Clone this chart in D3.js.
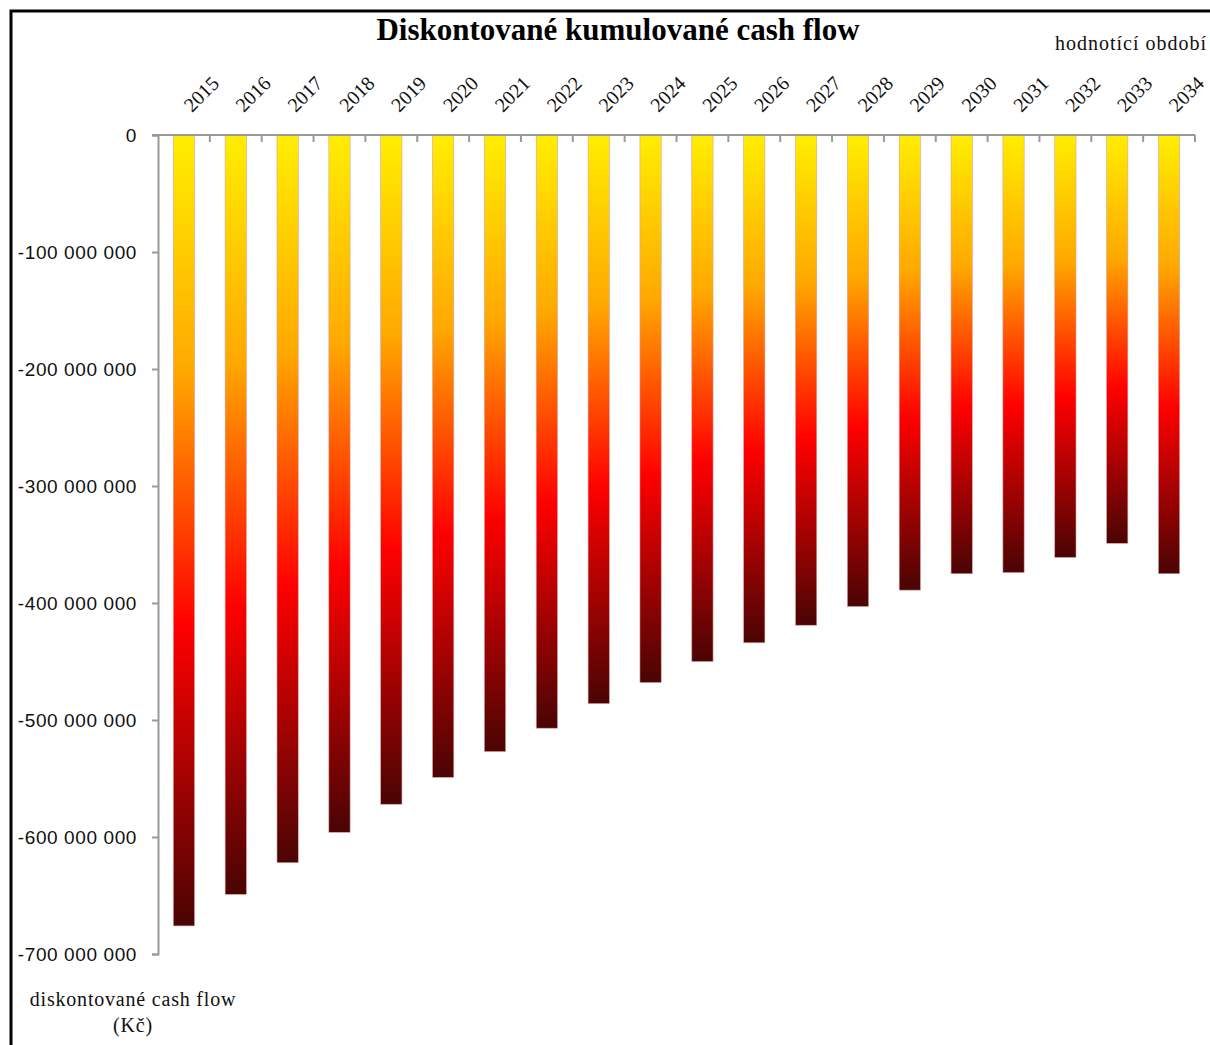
<!DOCTYPE html>
<html>
<head>
<meta charset="utf-8">
<script src="https://cdn.jsdelivr.net/npm/d3@7"></script>
<style>
  body { margin: 0; background: #fff; }
</style>
</head>
<body>
<div id="chart"></div>
<script>
// data
const years = ["2015", "2016", "2017", "2018", "2019", "2020", "2021", "2022", "2023", "2024",
  "2025", "2026", "2027", "2028", "2029", "2030", "2031", "2032", "2033", "2034"];
const cashFlow = [-676e6, -649e6, -622e6, -596e6, -572e6, -549e6, -527e6, -507e6, -486e6, -468e6,
  -450e6, -434e6, -419e6, -403e6, -389e6, -375e6, -374e6, -361e6, -349e6, -375e6];
const yTicks = [0, -100e6, -200e6, -300e6, -400e6, -500e6, -600e6, -700e6];

const width = 1210, height = 1045;
const plot = { left: 158, right: 1195, top: 135, bottom: 954 };
const serif = "Liberation Serif, Times New Roman, serif";

const svg = d3.select("#chart").append("svg")
  .attr("width", width)
  .attr("height", height);

// gradient from yellow (top) to dark red (bottom), stretched per bar
const grad = svg.append("defs").append("linearGradient")
  .attr("id", "barGrad")
  .attr("x1", 0).attr("y1", 0).attr("x2", 0).attr("y2", 1);
grad.append("stop").attr("offset", "0%").attr("stop-color", "#ffee00");
grad.append("stop").attr("offset", "30%").attr("stop-color", "#ffa800");
grad.append("stop").attr("offset", "62%").attr("stop-color", "#ff0000");
grad.append("stop").attr("offset", "100%").attr("stop-color", "#4a0404");

// frame
svg.append("rect")
  .attr("x", 11).attr("y", 11)
  .attr("width", 1220).attr("height", 1060)
  .attr("fill", "none")
  .attr("stroke", "#000")
  .attr("stroke-width", 3);

const x = d3.scaleBand()
  .domain(years)
  .range([plot.left, plot.right])
  .paddingInner(0.59)
  .paddingOuter(0.295);

const y = d3.scaleLinear()
  .domain([0, -700e6])
  .range([plot.top, plot.bottom]);

// bars
svg.append("g")
  .selectAll("rect")
  .data(years)
  .join("rect")
  .attr("x", (d) => x(d))
  .attr("y", y(0))
  .attr("width", x.bandwidth())
  .attr("height", (d, i) => y(cashFlow[i]) - y(0))
  .attr("fill", "url(#barGrad)")
  .attr("stroke", "#d9a0a0")
  .attr("stroke-width", 0.6);

// y axis
const fmt = (v) => d3.format(",")(v).replace(/,/g, " ").replace("−", "-");
const yAxis = svg.append("g")
  .attr("transform", `translate(${plot.left},0)`)
  .call(d3.axisLeft(y).tickValues(yTicks).tickSize(6).tickPadding(15).tickFormat(fmt));
yAxis.selectAll("line, path").attr("stroke", "#9a9a9a").attr("stroke-width", 2);
yAxis.selectAll("text")
  .attr("font-family", "Liberation Sans, Arial, sans-serif")
  .attr("font-size", 19)
  .attr("letter-spacing", 0.6)
  .attr("fill", "#111");

// x axis on top, ticks between categories going down
const step = x.step();
const xTickPos = d3.range(years.length + 1).map((i) => plot.left + i * step);
const xAxisG = svg.append("g");
xAxisG.append("line")
  .attr("x1", plot.left - 6).attr("x2", plot.right)
  .attr("y1", plot.top).attr("y2", plot.top)
  .attr("stroke", "#9a9a9a").attr("stroke-width", 2);
xAxisG.selectAll("line.tick")
  .data(xTickPos.slice(1))
  .join("line")
  .attr("class", "tick")
  .attr("x1", (d) => d).attr("x2", (d) => d)
  .attr("y1", plot.top).attr("y2", plot.top + 7)
  .attr("stroke", "#9a9a9a").attr("stroke-width", 2);

// year labels rotated
svg.append("g")
  .selectAll("text")
  .data(years)
  .join("text")
  .attr("transform", (d) => `translate(${x(d) + x.bandwidth() / 2 + 8},${plot.top - 22}) rotate(-45)`)
  .attr("text-anchor", "start")
  .attr("font-family", serif)
  .attr("font-size", 20)
  .attr("fill", "#111")
  .text((d) => d);

// title
svg.append("text")
  .attr("x", 618).attr("y", 40)
  .attr("text-anchor", "middle")
  .attr("font-family", serif)
  .attr("font-weight", "bold")
  .attr("font-size", 31)
  .text("Diskontované kumulované cash flow");

svg.append("text")
  .attr("x", 1207).attr("y", 50)
  .attr("text-anchor", "end")
  .attr("font-family", serif)
  .attr("font-size", 20)
  .attr("letter-spacing", 1)
  .attr("fill", "#111")
  .text("hodnotící období");

// y axis title
const yTitle = svg.append("text")
  .attr("text-anchor", "middle")
  .attr("font-family", serif)
  .attr("font-size", 20)
  .attr("letter-spacing", 0.8)
  .attr("fill", "#111");
yTitle.append("tspan").attr("x", 133).attr("y", 1006).text("diskontované cash flow");
yTitle.append("tspan").attr("x", 133).attr("y", 1032).text("(Kč)");
</script>
</body>
</html>
